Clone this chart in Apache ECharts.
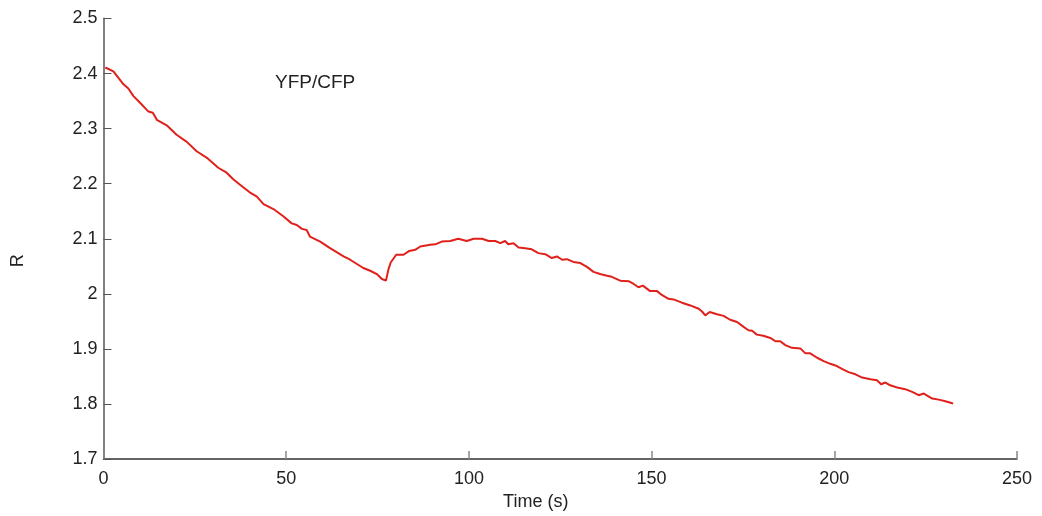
<!DOCTYPE html>
<html>
<head>
<meta charset="utf-8">
<script src="https://cdn.jsdelivr.net/npm/echarts@6/dist/echarts.min.js"></script>
<style>
  html, body { margin: 0; padding: 0; background: #fff; }
  #chart { width: 1042px; height: 516px; }
</style>
</head>
<body>
<div id="chart"></div>
<script>
// time in seconds
const times = [
  0.5, 2.7, 4.1, 5.4, 6.8, 8.2, 10.0, 12.3, 13.5, 14.6, 17.3, 20.0, 22.8, 25.5, 28.3,
  31.4, 33.7, 35.5, 37.8, 40.1, 41.9, 43.8, 46.5, 49.2, 51.5, 52.9, 54.3, 55.6, 56.5,
  59.3, 62.0, 65.7, 67.5, 71.1, 73.0, 74.8, 76.2, 77.3, 78.0, 78.6, 80.1, 82.1, 83.7,
  85.3, 86.7, 89.4, 90.8, 92.6, 94.9, 97.1, 99.4, 101.3, 103.6, 105.4, 107.2, 108.6,
  109.9, 110.8, 112.2, 113.6, 115.4, 117.2, 119.0, 120.9, 122.7, 124.1, 125.5, 126.8,
  128.6, 130.5, 132.3, 134.1, 135.9, 137.8, 139.1, 141.4, 143.7, 145.1, 146.4, 147.6,
  149.6, 151.5, 152.8, 154.6, 156.0, 158.3, 160.6, 162.9, 163.8, 164.7, 165.9, 167.9,
  169.7, 171.5, 173.4, 175.2, 176.5, 177.5, 178.8, 180.6, 182.5, 183.9, 185.2, 186.6,
  188.4, 190.7, 192.1, 193.4, 195.3, 197.1, 198.9, 200.7, 202.1, 203.9, 205.8, 207.6,
  209.9, 211.7, 212.8, 214.0, 215.3, 217.2, 219.4, 221.3, 223.1, 224.5, 226.8, 228.6,
  230.4, 232.5
];
// YFP/CFP ratio R
const ratio = [
  2.411, 2.404, 2.392, 2.381, 2.373, 2.359, 2.347, 2.331, 2.329, 2.316, 2.306, 2.289,
  2.276, 2.259, 2.247, 2.229, 2.220, 2.208, 2.196, 2.184, 2.177, 2.163, 2.154, 2.141,
  2.128, 2.125, 2.118, 2.116, 2.104, 2.095, 2.083, 2.068, 2.062, 2.047, 2.042, 2.036,
  2.027, 2.024, 2.045, 2.057, 2.071, 2.071, 2.078, 2.080, 2.086, 2.089, 2.090, 2.095,
  2.096, 2.100, 2.096, 2.100, 2.100, 2.096, 2.096, 2.092, 2.096, 2.090, 2.092, 2.084,
  2.083, 2.081, 2.074, 2.072, 2.065, 2.068, 2.062, 2.063, 2.058, 2.056, 2.049, 2.040,
  2.036, 2.033, 2.031, 2.024, 2.023, 2.018, 2.012, 2.015, 2.005, 2.005, 1.998, 1.991,
  1.990, 1.984, 1.979, 1.973, 1.968, 1.961, 1.967, 1.963, 1.960, 1.953, 1.949, 1.940,
  1.934, 1.933, 1.926, 1.924, 1.920, 1.914, 1.914, 1.907, 1.902, 1.901, 1.892, 1.892,
  1.884, 1.878, 1.873, 1.869, 1.864, 1.858, 1.854, 1.848, 1.845, 1.843, 1.836, 1.839,
  1.834, 1.830, 1.827, 1.822, 1.816, 1.819, 1.810, 1.808, 1.805, 1.801
];
const xTicks = { min: 0, max: 250, interval: 50 };
const yTicks = { min: 1.7, max: 2.5, interval: 0.1 };

const chart = echarts.init(document.getElementById('chart'));
const font = 'Liberation Sans, Arial, sans-serif';

chart.setOption({
  animation: false,
  grid: { left: 103.5, right: 25, top: 18.5, bottom: 55 },
  graphic: [{
    type: 'text',
    left: 275,
    top: 73,
    style: { text: 'YFP/CFP', font: '19px ' + font, fill: '#222' }
  }],
  xAxis: {
    type: 'value',
    min: xTicks.min, max: xTicks.max, interval: xTicks.interval,
    name: 'Time (s)', nameLocation: 'middle', nameGap: 33,
    nameTextStyle: { fontFamily: font, fontSize: 18, color: '#222', padding: [0, 49, 0, 0] },
    axisLine: { lineStyle: { color: '#333', width: 1.5 } },
    axisTick: { inside: true, length: 8, lineStyle: { color: '#888', width: 1.5 } },
    axisLabel: { fontFamily: font, fontSize: 18, color: '#222', margin: 11 },
    splitLine: { show: false }
  },
  yAxis: {
    type: 'value',
    min: yTicks.min, max: yTicks.max, interval: yTicks.interval,
    name: 'R', nameLocation: 'middle', nameGap: 76,
    nameTextStyle: { fontFamily: font, fontSize: 18, color: '#222', padding: [0, 44, 0, 0] },
    axisLine: { show: true, lineStyle: { color: '#808080', width: 2 } },
    axisTick: { show: true, inside: true, length: 8, lineStyle: { color: '#555', width: 1 } },
    axisLabel: { fontFamily: font, fontSize: 18, color: '#222', margin: 6 },
    splitLine: { show: false }
  },
  series: [{
    type: 'line',
    data: times.map((t, i) => [t, ratio[i]]),
    showSymbol: false,
    lineStyle: { color: '#e0201b', width: 2 }
  }]
});
</script>
</body>
</html>
